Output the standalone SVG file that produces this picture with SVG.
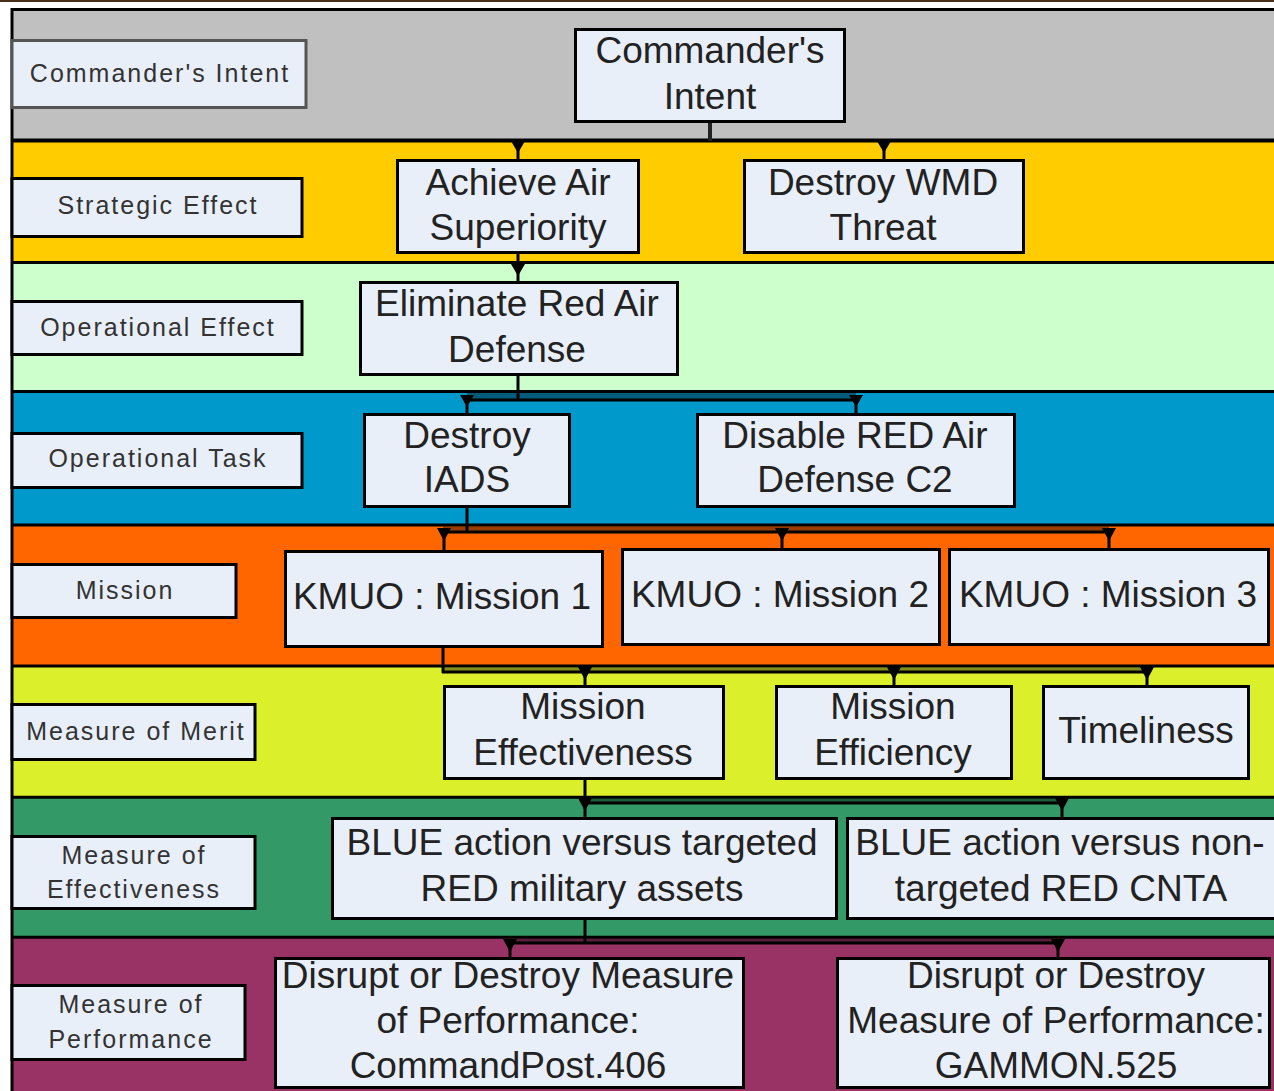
<svg xmlns="http://www.w3.org/2000/svg" width="1274" height="1091" viewBox="0 0 1274 1091">
<style>
.node{fill:#E9EFF9;stroke:#000;stroke-width:3}
.lab{fill:#E9EFF9;stroke:#000;stroke-width:3}
.t{font-family:"Liberation Sans",Arial,sans-serif;font-size:37px;fill:#222;text-anchor:middle}
.lt{font-family:"Liberation Sans",Arial,sans-serif;font-size:25px;letter-spacing:2px;fill:#333;text-anchor:middle}
.bd{stroke:#000;stroke-width:3}
.c{stroke:#000;stroke-width:3;fill:none}
.sh{fill:#000;opacity:0.4}
.ah{fill:#000}
</style>
<rect x="0" y="0" width="1274" height="1091" fill="#fff"/>
<rect x="0" y="0" width="1274" height="2" fill="#4b2e1a"/>
<g id="bands">
<rect x="13" y="10" width="1261" height="131" fill="#C0C0C0"/>
<rect x="13" y="141" width="1261" height="122" fill="#FFCC00"/>
<rect x="13" y="263" width="1261" height="129" fill="#CCFFCC"/>
<rect x="13" y="392" width="1261" height="133" fill="#0099CC"/>
<rect x="13" y="525" width="1261" height="141" fill="#FF6600"/>
<rect x="13" y="666" width="1261" height="131" fill="#DCEF2B"/>
<rect x="13" y="797" width="1261" height="141" fill="#339966"/>
<rect x="13" y="938" width="1261" height="153" fill="#993366"/>
<line class="bd" x1="11" y1="9.5" x2="1274" y2="9.5"/>
<line class="bd" x1="11" y1="140.5" x2="1274" y2="140.5" style="stroke-width:4"/>
<line class="bd" x1="11" y1="262.5" x2="1274" y2="262.5"/>
<line class="bd" x1="11" y1="391.5" x2="1274" y2="391.5"/>
<line class="bd" x1="11" y1="525" x2="1274" y2="525"/>
<line class="bd" x1="11" y1="666" x2="1274" y2="666"/>
<line class="bd" x1="11" y1="797.3" x2="1274" y2="797.3"/>
<line class="bd" x1="11" y1="937.3" x2="1274" y2="937.3"/>
<line class="bd" x1="12" y1="8" x2="12" y2="1091"/>
</g>
<g id="label-commanders-intent"><rect class="lab" x="12" y="40.5" width="294" height="67" style="stroke:#555"/><text class="lt" x="160" y="82">Commander's Intent</text></g>
<g id="label-strategic-effect"><rect class="lab" x="12" y="178.5" width="290" height="58"/><text class="lt" x="158" y="214">Strategic Effect</text></g>
<g id="label-operational-effect"><rect class="lab" x="12" y="301.5" width="290" height="53"/><text class="lt" x="158" y="336">Operational Effect</text></g>
<g id="label-operational-task"><rect class="lab" x="12" y="433.5" width="290" height="54"/><text class="lt" x="158" y="467">Operational Task</text></g>
<g id="label-mission"><rect class="lab" x="12" y="564.5" width="224" height="53"/><text class="lt" x="125" y="599">Mission</text></g>
<g id="label-measure-of-merit"><rect class="lab" x="12" y="704.5" width="243" height="55"/><text class="lt" x="136" y="740">Measure of Merit</text></g>
<g id="label-measure-of-effectiveness"><rect class="lab" x="12" y="836.5" width="243" height="72"/><text class="lt" x="134" y="864">Measure of</text><text class="lt" x="134" y="898">Effectiveness</text></g>
<g id="label-measure-of-performance"><rect class="lab" x="12" y="985.5" width="233" height="74"/><text class="lt" x="131" y="1013">Measure of</text><text class="lt" x="131" y="1048">Performance</text></g>
<g id="connectors">
<line class="c" x1="710" y1="123" x2="710" y2="141" style="stroke-width:4;stroke:#222"/>
<line class="c" x1="518" y1="150" x2="518" y2="159"/>
<polygon class="ah" points="511,141 525,141 518,153"/>
<line class="c" x1="884" y1="150" x2="884" y2="159"/>
<polygon class="ah" points="877,141 891,141 884,153"/>
<line class="c" x1="518" y1="254" x2="518" y2="281"/>
<polygon class="ah" points="511,264 525,264 518,276"/>
<line class="c" x1="518" y1="376" x2="518" y2="400"/>
<rect class="sh" x="467" y="393" width="389" height="6"/>
<line class="c" x1="466" y1="400" x2="857" y2="400"/>
<line class="c" x1="467" y1="400" x2="467" y2="413"/>
<polygon class="ah" points="460,395 474,395 467,407"/>
<line class="c" x1="856" y1="400" x2="856" y2="413"/>
<polygon class="ah" points="849,395 863,395 856,407"/>
<line class="c" x1="467" y1="508" x2="467" y2="532"/>
<rect class="sh" x="443" y="526.5" width="666" height="5"/>
<line class="c" x1="443" y1="532" x2="1110" y2="532"/>
<line class="c" x1="444" y1="532" x2="444" y2="550"/>
<polygon class="ah" points="437,528 451,528 444,541"/>
<line class="c" x1="782" y1="532" x2="782" y2="548"/>
<polygon class="ah" points="775,528 789,528 782,541"/>
<line class="c" x1="1109" y1="532" x2="1109" y2="548"/>
<polygon class="ah" points="1102,528 1116,528 1109,541"/>
<line class="c" x1="443" y1="648" x2="443" y2="673"/>
<rect class="sh" x="443" y="667.5" width="705" height="4"/>
<line class="c" x1="442" y1="672" x2="1148" y2="672"/>
<line class="c" x1="585" y1="672" x2="585" y2="685"/>
<polygon class="ah" points="578,667 592,667 585,680"/>
<line class="c" x1="894" y1="672" x2="894" y2="685"/>
<polygon class="ah" points="887,667 901,667 894,680"/>
<line class="c" x1="1147" y1="672" x2="1147" y2="685"/>
<polygon class="ah" points="1140,667 1154,667 1147,680"/>
<line class="c" x1="585" y1="780" x2="585" y2="803"/>
<rect class="sh" x="585" y="799" width="477" height="4"/>
<line class="c" x1="584" y1="803" x2="1063" y2="803"/>
<line class="c" x1="585" y1="803" x2="585" y2="817"/>
<polygon class="ah" points="578,798 592,798 585,811"/>
<line class="c" x1="1062" y1="803" x2="1062" y2="817"/>
<polygon class="ah" points="1055,798 1069,798 1062,811"/>
<line class="c" x1="585" y1="920" x2="585" y2="943"/>
<rect class="sh" x="510" y="939" width="548" height="4"/>
<line class="c" x1="509" y1="943" x2="1059" y2="943"/>
<line class="c" x1="510" y1="943" x2="510" y2="957"/>
<polygon class="ah" points="503,939 517,939 510,952"/>
<line class="c" x1="1058" y1="943" x2="1058" y2="957"/>
<polygon class="ah" points="1051,939 1065,939 1058,952"/>
</g>
<g id="commanders-intent"><rect class="node" x="575.5" y="29.5" width="269" height="92"/><text class="t" x="710" y="63">Commander's</text><text class="t" x="710" y="109">Intent</text></g>
<g id="achieve-air-superiority"><rect class="node" x="397.5" y="160.5" width="241" height="92"/><text class="t" x="518" y="195">Achieve Air</text><text class="t" x="518" y="240">Superiority</text></g>
<g id="destroy-wmd-threat"><rect class="node" x="744.5" y="160.5" width="279" height="92"/><text class="t" x="883" y="195">Destroy WMD</text><text class="t" x="883" y="240">Threat</text></g>
<g id="eliminate-red-air-defense"><rect class="node" x="360.5" y="282.5" width="317" height="92"/><text class="t" x="517" y="316">Eliminate Red Air</text><text class="t" x="517" y="362">Defense</text></g>
<g id="destroy-iads"><rect class="node" x="364.5" y="414.5" width="205" height="92"/><text class="t" x="467" y="448">Destroy</text><text class="t" x="467" y="492">IADS</text></g>
<g id="disable-red-air-defense-c2"><rect class="node" x="697.5" y="414.5" width="317" height="92"/><text class="t" x="855" y="448">Disable RED Air</text><text class="t" x="855" y="492">Defense C2</text></g>
<g id="mission-1"><rect class="node" x="285.5" y="551.5" width="317" height="95"/><text class="t" x="442" y="609">KMUO : Mission 1</text></g>
<g id="mission-2"><rect class="node" x="622.5" y="549.5" width="317" height="95"/><text class="t" x="780" y="607">KMUO : Mission 2</text></g>
<g id="mission-3"><rect class="node" x="949.5" y="549.5" width="319" height="95"/><text class="t" x="1108" y="607">KMUO : Mission 3</text></g>
<g id="mission-effectiveness"><rect class="node" x="444.5" y="686.5" width="279" height="92"/><text class="t" x="583" y="719">Mission</text><text class="t" x="583" y="765">Effectiveness</text></g>
<g id="mission-efficiency"><rect class="node" x="776.5" y="686.5" width="235" height="92"/><text class="t" x="893" y="719">Mission</text><text class="t" x="893" y="765">Efficiency</text></g>
<g id="timeliness"><rect class="node" x="1043.5" y="686.5" width="205" height="92"/><text class="t" x="1146" y="743">Timeliness</text></g>
<g id="blue-targeted"><rect class="node" x="332.5" y="818.5" width="504" height="100"/><text class="t" x="582" y="855">BLUE action versus targeted</text><text class="t" x="582" y="901">RED military assets</text></g>
<g id="blue-non-targeted"><rect class="node" x="847.5" y="818.5" width="440" height="100"/><text class="t" x="1060" y="855">BLUE action versus non-</text><text class="t" x="1061" y="901">targeted RED CNTA</text></g>
<g id="mop-commandpost"><rect class="node" x="275.5" y="958.5" width="468" height="129"/><text class="t" x="508" y="988">Disrupt or Destroy Measure</text><text class="t" x="508" y="1033">of Performance:</text><text class="t" x="508" y="1078">CommandPost.406</text></g>
<g id="mop-gammon"><rect class="node" x="837.5" y="958.5" width="432" height="129"/><text class="t" x="1056" y="988">Disrupt or Destroy</text><text class="t" x="1056" y="1033">Measure of Performance:</text><text class="t" x="1056" y="1078">GAMMON.525</text></g>
</svg>
